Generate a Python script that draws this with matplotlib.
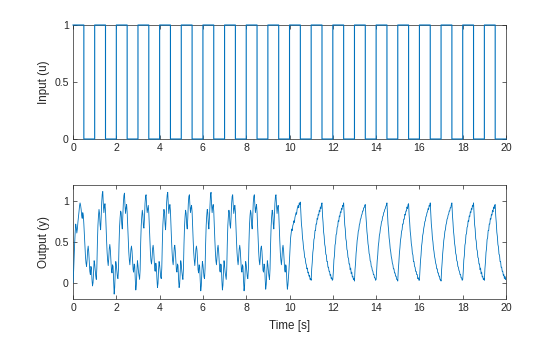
import matplotlib
matplotlib.use("Agg")
import matplotlib.pyplot as plt
import numpy as np

# ---------------- data ----------------
# input square wave: edge times and values (step-post)
input_t = [0.0, 0.5, 1.0, 1.5, 2.0, 2.5, 3.0, 3.5, 4.0, 4.5, 5.0, 5.5, 6.0, 6.5,
           7.0, 7.5, 8.0, 8.5, 9.0, 9.5, 10.0, 10.5, 11.0, 11.5, 12.0, 12.5,
           13.0, 13.5, 14.0, 14.5, 15.0, 15.5, 16.0, 16.5, 17.0, 17.5, 18.0,
           18.5, 19.0, 19.5, 20.0]
input_u = [1, 0, 1, 0, 1, 0, 1, 0, 1, 0, 1, 0, 1, 0, 1, 0, 1, 0, 1, 0,
           1, 0, 1, 0, 1, 0, 1, 0, 1, 0, 1, 0, 1, 0, 1, 0, 1, 0, 1, 0, 0]

# output samples every 0.025 s (one row per second)
output_dt = 0.025
output_y = [
    0.00, 0.12, 0.30, 0.48, 0.62, 0.72, 0.68, 0.61, 0.66, 0.74, 0.80, 0.87, 0.94, 0.98, 0.95, 0.90, 0.82, 0.79, 0.86, 0.83,
    0.72, 0.58, 0.44, 0.32, 0.24, 0.20, 0.28, 0.40, 0.45, 0.38, 0.26, 0.14, 0.10, 0.20, 0.18, 0.04, -0.04, 0.00, 0.14, 0.27,
    0.23, 0.15, 0.08, 0.04, 0.18, 0.48, 0.70, 0.82, 0.90, 0.85, 0.71, 0.65, 0.80, 0.99, 1.09, 1.12, 0.96, 0.86, 0.93, 0.97,
    0.88, 0.69, 0.52, 0.37, 0.27, 0.21, 0.30, 0.42, 0.47, 0.40, 0.27, 0.15, 0.12, 0.22, 0.20, 0.02, -0.14, -0.06, 0.13, 0.26,
    0.22, 0.14, 0.07, 0.05, 0.17, 0.47, 0.69, 0.80, 0.88, 0.86, 0.72, 0.66, 0.81, 0.98, 1.07, 1.10, 0.95, 0.85, 0.92, 0.96,
    0.87, 0.70, 0.53, 0.38, 0.28, 0.22, 0.31, 0.41, 0.45, 0.39, 0.28, 0.16, 0.13, 0.23, 0.21, 0.04, -0.09, -0.03, 0.14, 0.27,
    0.21, 0.13, 0.08, 0.04, 0.16, 0.49, 0.70, 0.81, 0.89, 0.84, 0.70, 0.67, 0.79, 0.97, 1.06, 1.08, 0.94, 0.86, 0.91, 0.95,
    0.86, 0.69, 0.51, 0.37, 0.27, 0.23, 0.30, 0.42, 0.46, 0.40, 0.27, 0.15, 0.14, 0.24, 0.20, 0.05, -0.06, -0.01, 0.15, 0.26,
    0.22, 0.15, 0.07, 0.05, 0.18, 0.48, 0.71, 0.82, 0.90, 0.86, 0.72, 0.65, 0.80, 0.99, 1.08, 1.11, 0.96, 0.85, 0.92, 0.96,
    0.88, 0.70, 0.52, 0.38, 0.27, 0.22, 0.31, 0.43, 0.46, 0.39, 0.28, 0.15, 0.13, 0.23, 0.21, 0.04, -0.06, -0.02, 0.14, 0.27,
    0.23, 0.14, 0.08, 0.04, 0.17, 0.47, 0.69, 0.81, 0.89, 0.85, 0.71, 0.66, 0.79, 0.97, 1.06, 1.08, 0.95, 0.86, 0.92, 0.95,
    0.87, 0.69, 0.52, 0.37, 0.28, 0.21, 0.30, 0.41, 0.45, 0.40, 0.27, 0.16, 0.12, 0.22, 0.20, 0.03, -0.10, -0.04, 0.13, 0.26,
    0.22, 0.14, 0.07, 0.05, 0.18, 0.48, 0.70, 0.82, 0.90, 0.86, 0.72, 0.66, 0.81, 0.99, 1.08, 1.11, 0.96, 0.86, 0.93, 0.96,
    0.88, 0.70, 0.53, 0.38, 0.27, 0.22, 0.31, 0.42, 0.46, 0.39, 0.28, 0.15, 0.13, 0.23, 0.21, 0.03, -0.09, -0.03, 0.14, 0.27,
    0.21, 0.13, 0.08, 0.04, 0.16, 0.47, 0.70, 0.81, 0.89, 0.85, 0.71, 0.67, 0.80, 0.97, 1.06, 1.08, 0.95, 0.85, 0.91, 0.95,
    0.87, 0.69, 0.52, 0.37, 0.28, 0.22, 0.30, 0.41, 0.46, 0.40, 0.27, 0.16, 0.13, 0.22, 0.20, 0.03, -0.10, -0.04, 0.13, 0.26,
    0.22, 0.14, 0.07, 0.05, 0.17, 0.48, 0.70, 0.82, 0.89, 0.85, 0.71, 0.66, 0.80, 0.98, 1.06, 1.08, 0.95, 0.86, 0.92, 0.96,
    0.87, 0.70, 0.52, 0.38, 0.27, 0.22, 0.31, 0.42, 0.45, 0.39, 0.28, 0.15, 0.13, 0.23, 0.21, 0.04, -0.08, -0.02, 0.14, 0.27,
    0.22, 0.14, 0.08, 0.04, 0.17, 0.47, 0.69, 0.81, 0.89, 0.86, 0.72, 0.66, 0.80, 0.97, 1.06, 1.08, 0.95, 0.85, 0.92, 0.95,
    0.87, 0.69, 0.52, 0.37, 0.28, 0.22, 0.30, 0.42, 0.46, 0.40, 0.27, 0.16, 0.13, 0.22, 0.20, 0.03, -0.08, -0.03, 0.06, 0.16,
    0.28, 0.42, 0.55, 0.60, 0.66, 0.64, 0.70, 0.72, 0.76, 0.74, 0.80, 0.83, 0.86, 0.84, 0.90, 0.93, 0.95, 0.92, 0.98, 0.96,
    0.99, 0.86, 0.72, 0.66, 0.55, 0.50, 0.42, 0.38, 0.31, 0.30, 0.24, 0.22, 0.17, 0.18, 0.12, 0.13, 0.08, 0.09, 0.04, 0.05,
    0.03, 0.17, 0.25, 0.37, 0.42, 0.53, 0.55, 0.64, 0.64, 0.72, 0.72, 0.79, 0.78, 0.84, 0.83, 0.89, 0.87, 0.93, 0.91, 0.96,
    0.98, 0.82, 0.74, 0.62, 0.57, 0.47, 0.44, 0.35, 0.34, 0.26, 0.26, 0.19, 0.19, 0.14, 0.14, 0.09, 0.10, 0.05, 0.06, 0.03,
    0.04, 0.14, 0.28, 0.33, 0.46, 0.49, 0.59, 0.60, 0.68, 0.69, 0.76, 0.75, 0.82, 0.81, 0.87, 0.86, 0.91, 0.90, 0.95, 0.94,
    0.98, 0.85, 0.71, 0.66, 0.54, 0.51, 0.41, 0.39, 0.31, 0.30, 0.23, 0.23, 0.16, 0.18, 0.11, 0.13, 0.07, 0.08, 0.04, 0.05,
    0.02, 0.16, 0.24, 0.36, 0.43, 0.52, 0.56, 0.63, 0.65, 0.71, 0.73, 0.78, 0.79, 0.83, 0.84, 0.88, 0.88, 0.92, 0.92, 0.95,
    0.96, 0.83, 0.74, 0.63, 0.57, 0.48, 0.44, 0.36, 0.34, 0.27, 0.26, 0.20, 0.19, 0.15, 0.14, 0.10, 0.10, 0.06, 0.06, 0.03,
    0.04, 0.15, 0.27, 0.34, 0.45, 0.50, 0.58, 0.61, 0.67, 0.70, 0.75, 0.76, 0.81, 0.82, 0.86, 0.87, 0.90, 0.91, 0.94, 0.95,
    0.98, 0.84, 0.72, 0.65, 0.55, 0.50, 0.42, 0.38, 0.32, 0.29, 0.24, 0.22, 0.17, 0.17, 0.12, 0.12, 0.08, 0.08, 0.04, 0.04,
    0.02, 0.16, 0.25, 0.36, 0.43, 0.52, 0.56, 0.63, 0.65, 0.72, 0.72, 0.78, 0.78, 0.84, 0.83, 0.88, 0.88, 0.93, 0.91, 0.96,
    0.97, 0.83, 0.74, 0.63, 0.57, 0.48, 0.44, 0.36, 0.34, 0.26, 0.26, 0.20, 0.19, 0.14, 0.14, 0.10, 0.10, 0.05, 0.06, 0.03,
    0.03, 0.15, 0.27, 0.34, 0.45, 0.50, 0.58, 0.61, 0.67, 0.70, 0.75, 0.76, 0.81, 0.82, 0.86, 0.87, 0.91, 0.90, 0.95, 0.94,
    0.98, 0.85, 0.72, 0.65, 0.55, 0.50, 0.42, 0.38, 0.32, 0.29, 0.24, 0.22, 0.17, 0.17, 0.12, 0.12, 0.08, 0.08, 0.04, 0.04,
    0.02, 0.16, 0.25, 0.36, 0.43, 0.52, 0.56, 0.63, 0.65, 0.71, 0.73, 0.78, 0.79, 0.83, 0.84, 0.88, 0.88, 0.92, 0.92, 0.96,
    0.98, 0.83, 0.74, 0.63, 0.57, 0.48, 0.44, 0.36, 0.34, 0.27, 0.26, 0.20, 0.19, 0.15, 0.14, 0.10, 0.10, 0.06, 0.06, 0.03,
    0.04, 0.14, 0.28, 0.33, 0.46, 0.49, 0.59, 0.60, 0.68, 0.69, 0.76, 0.75, 0.82, 0.81, 0.87, 0.86, 0.91, 0.90, 0.95, 0.94,
    0.98, 0.84, 0.71, 0.66, 0.54, 0.51, 0.41, 0.39, 0.31, 0.30, 0.23, 0.23, 0.16, 0.18, 0.11, 0.13, 0.07, 0.08, 0.04, 0.05,
    0.03, 0.17, 0.25, 0.37, 0.42, 0.53, 0.55, 0.64, 0.64, 0.72, 0.72, 0.79, 0.78, 0.84, 0.83, 0.89, 0.87, 0.93, 0.91, 0.95,
    0.96, 0.82, 0.74, 0.62, 0.57, 0.47, 0.44, 0.35, 0.34, 0.26, 0.26, 0.19, 0.19, 0.14, 0.14, 0.09, 0.10, 0.05, 0.08, 0.04,
    0.06,
]

x_ticks = [0, 2, 4, 6, 8, 10, 12, 14, 16, 18, 20]
y_ticks = [0, 0.5, 1]
y_tick_labels = ["0", "0.5", "1"]

# ---------------- style ----------------
plt.rcParams["font.family"] = ["Liberation Sans", "DejaVu Sans"]
line_color = "#0072BD"
axis_color = "#262626"

fig = plt.figure(figsize=(5.6, 3.37), dpi=100)
ax1 = fig.add_axes([0.1304, 0.5875, 0.7732, 0.3383])
ax2 = fig.add_axes([0.1304, 0.1128, 0.7732, 0.3383])

ax1.step(input_t, input_u, where="post", color=line_color, lw=0.8,
         clip_on=False, zorder=10, snap=False)
t_out = np.arange(len(output_y)) * output_dt
ax2.plot(t_out, output_y, color=line_color, lw=0.6, zorder=10)

for ax in (ax1, ax2):
    ax.set_xlim(0, 20)
    ax.set_xticks(x_ticks)
    ax.set_yticks(y_ticks)
    ax.set_yticklabels(y_tick_labels)
    ax.tick_params(direction="in", length=3, width=0.5, colors=axis_color,
                   top=True, right=True, pad=3, labelsize=7.6)
    for s in ax.spines.values():
        s.set_linewidth(0.5)
        s.set_color(axis_color)
        s.set_zorder(1)

ax1.set_ylim(0, 1)
ax2.set_ylim(-0.2, 1.2)
ax1.set_ylabel("Input (u)", fontsize=8.4, color=axis_color, labelpad=3)
ax2.set_ylabel("Output (y)", fontsize=8.4, color=axis_color, labelpad=3)
ax2.set_xlabel("Time [s]", fontsize=8.4, color=axis_color, labelpad=5)

fig.savefig("out.png", dpi=100)
